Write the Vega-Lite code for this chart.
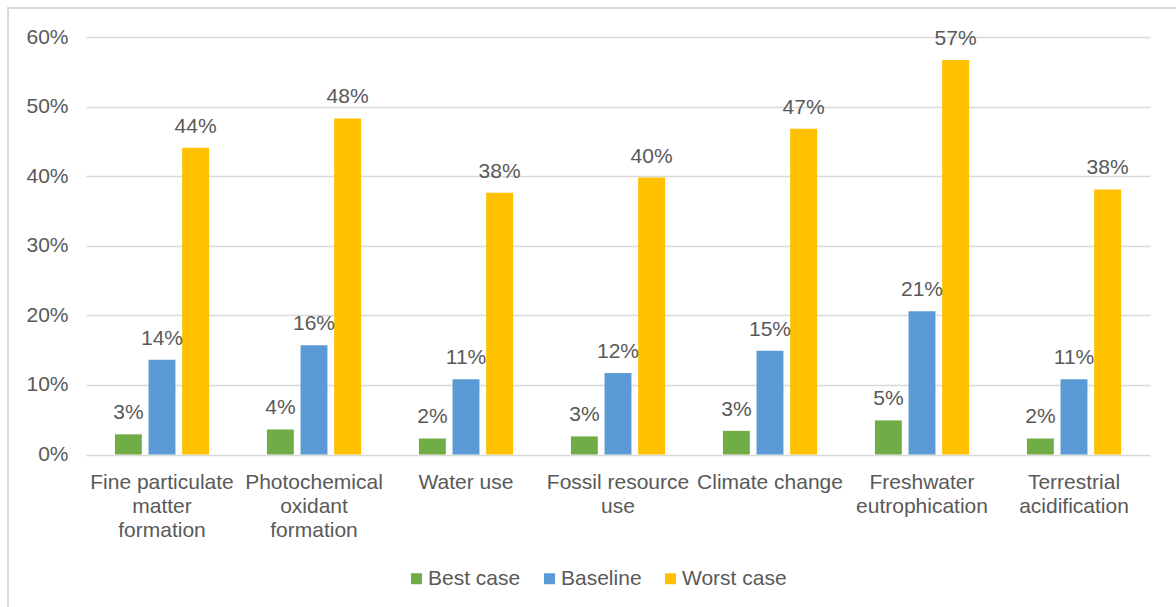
{
  "$schema": "https://vega.github.io/schema/vega-lite/v6.json",
  "width": 1176,
  "height": 607,
  "autosize": {"type": "none"},
  "padding": {"left": 8, "top": 8, "right": -8, "bottom": -8},
  "background": "white",
  "config": {
    "font": "Liberation Sans",
    "view": {"stroke": "#d9d9d9", "strokeWidth": 2}
  },
  "data": {
    "values": [
      {"impact": "Fine particulate matter formation", "scenario": "Best case", "share": 0.029},
      {"impact": "Fine particulate matter formation", "scenario": "Baseline", "share": 0.136},
      {"impact": "Fine particulate matter formation", "scenario": "Worst case", "share": 0.441},
      {"impact": "Photochemical oxidant formation", "scenario": "Best case", "share": 0.036},
      {"impact": "Photochemical oxidant formation", "scenario": "Baseline", "share": 0.157},
      {"impact": "Photochemical oxidant formation", "scenario": "Worst case", "share": 0.483},
      {"impact": "Water use", "scenario": "Best case", "share": 0.023},
      {"impact": "Water use", "scenario": "Baseline", "share": 0.108},
      {"impact": "Water use", "scenario": "Worst case", "share": 0.376},
      {"impact": "Fossil resource use", "scenario": "Best case", "share": 0.026},
      {"impact": "Fossil resource use", "scenario": "Baseline", "share": 0.117},
      {"impact": "Fossil resource use", "scenario": "Worst case", "share": 0.398},
      {"impact": "Climate change", "scenario": "Best case", "share": 0.034},
      {"impact": "Climate change", "scenario": "Baseline", "share": 0.149},
      {"impact": "Climate change", "scenario": "Worst case", "share": 0.468},
      {"impact": "Freshwater eutrophication", "scenario": "Best case", "share": 0.049},
      {"impact": "Freshwater eutrophication", "scenario": "Baseline", "share": 0.206},
      {"impact": "Freshwater eutrophication", "scenario": "Worst case", "share": 0.567},
      {"impact": "Terrestrial acidification", "scenario": "Best case", "share": 0.023},
      {"impact": "Terrestrial acidification", "scenario": "Baseline", "share": 0.108},
      {"impact": "Terrestrial acidification", "scenario": "Worst case", "share": 0.381}
    ]
  },
  "encoding": {
    "x": {
      "field": "impact",
      "type": "nominal",
      "sort": null,
      "scale": {"range": [78, 1142], "paddingInner": 0, "paddingOuter": 0},
      "axis": {
        "title": null,
        "orient": "bottom",
        "offset": -160.5,
        "domain": false,
        "ticks": false,
        "grid": false,
        "labelAngle": 0,
        "labelPadding": 17,
        "labelFontSize": 21,
        "labelLineHeight": 24,
        "labelColor": "#595959",
        "labelOverlap": false,
        "labelBound": false,
        "labelLimit": 300,
        "labelExpr": "split(datum.label == 'Fine particulate matter formation' ? 'Fine particulate|matter|formation' : datum.label == 'Photochemical oxidant formation' ? 'Photochemical|oxidant|formation' : datum.label == 'Fossil resource use' ? 'Fossil resource|use' : datum.label == 'Freshwater eutrophication' ? 'Freshwater|eutrophication' : datum.label == 'Terrestrial acidification' ? 'Terrestrial|acidification' : datum.label, '|')"
      }
    },
    "xOffset": {
      "field": "scenario",
      "type": "nominal",
      "sort": ["Best case", "Baseline", "Worst case"],
      "scale": {"paddingInner": 0.2, "paddingOuter": 0.86}
    },
    "y": {
      "field": "share",
      "type": "quantitative",
      "scale": {"domain": [0, 0.6], "range": [446.5, 29], "nice": false},
      "axis": {
        "title": null,
        "orient": "left",
        "offset": -60,
        "domain": false,
        "ticks": false,
        "labelPadding": 0,
        "values": [0, 0.1, 0.2, 0.3, 0.4, 0.5, 0.6],
        "format": ".0%",
        "labelFontSize": 21,
        "labelColor": "#595959",
        "grid": true,
        "gridColor": "#d9d9d9",
        "gridWidth": 1.5
      }
    }
  },
  "layer": [
    {
      "mark": {"type": "bar"},
      "encoding": {
        "color": {
          "field": "scenario",
          "type": "nominal",
          "sort": ["Best case", "Baseline", "Worst case"],
          "scale": {"domain": ["Best case", "Baseline", "Worst case"], "range": ["#70ad47", "#5b9bd5", "#ffc000"]},
          "legend": {
            "title": null,
            "orient": "none",
            "direction": "horizontal",
            "legendX": 398,
            "legendY": 560,
            "padding": 0,
            "symbolType": "square",
            "symbolSize": 121,
            "symbolStrokeWidth": 0,
            "labelFontSize": 21,
            "labelColor": "#595959",
            "labelOffset": 1,
            "columnPadding": 18
          }
        }
      }
    },
    {
      "mark": {"type": "text", "baseline": "alphabetic", "dy": -15, "fontSize": 21, "color": "#595959"},
      "encoding": {
        "text": {"field": "share", "type": "quantitative", "format": ".0%"}
      }
    }
  ]
}
